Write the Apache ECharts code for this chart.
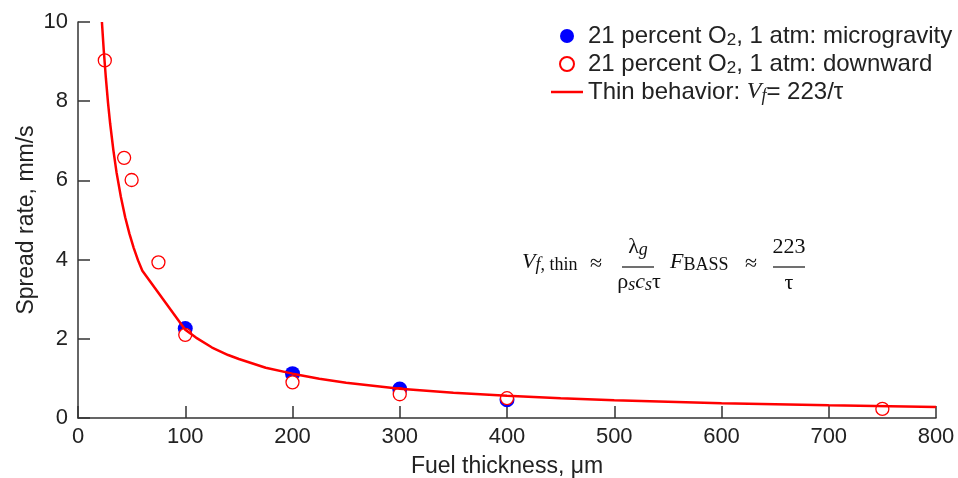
<!DOCTYPE html>
<html><head><meta charset="utf-8">
<script src="https://cdn.jsdelivr.net/npm/echarts@6/dist/echarts.min.js"></script>
<style>html,body{margin:0;padding:0;background:#fff}#c{width:958px;height:478px}</style>
</head><body><div id="c"></div>
<script>
// ---- data ----
const microX = [100, 200, 300, 400];
const microY = [2.26, 1.12, 0.73, 0.46];
const downX = [25, 43, 50, 75, 100, 200, 300, 400, 750];
const downY = [9.03, 6.57, 6.01, 3.93, 2.10, 0.90, 0.60, 0.50, 0.23];
const curveX = [22.3, 24, 26, 28, 30, 33, 36, 40, 44, 48, 52, 56, 60, 100, 110, 125, 140, 150, 175, 200, 225, 250, 300, 350, 400, 450, 500, 600, 700, 800];
const curveY = [10, 9.29, 8.58, 7.96, 7.43, 6.76, 6.19, 5.58, 5.07, 4.65, 4.29, 3.98, 3.72, 2.23, 2.03, 1.78, 1.59, 1.49, 1.27, 1.12, 0.99, 0.89, 0.74, 0.64, 0.56, 0.50, 0.45, 0.37, 0.32, 0.28];
const xTickMin = 0, xTickMax = 800, xTickStep = 100;
const yTickMin = 0, yTickMax = 10, yTickStep = 2;
const seriesNames = ['21 percent O2, 1 atm: microgravity', '21 percent O2, 1 atm: downward', 'Thin behavior: Vf = 223/τ'];
const legendRich = [
  '{a|21 percent O}{sub|2}{a|, 1 atm: microgravity}',
  '{a|21 percent O}{sub|2}{a|, 1 atm: downward}',
  '{a|Thin behavior: }{iv|V}{isub|f}{a|= 223/τ}'
];

const SANS = '"Liberation Sans", Arial, Helvetica, sans-serif';
const SERIF = '"Liberation Serif", "Times New Roman", serif';
const TXT = '#222';
const AX = '#333';

const zip = (xs, ys) => xs.map((x, i) => [x, ys[i]]);

const serRich = {
  m: { fontFamily: SERIF, fontSize: 22, lineHeight: 24, fill: '#111' },
  mi: { fontFamily: SERIF, fontSize: 22, fontStyle: 'italic', lineHeight: 24, fill: '#111' },
  s: { fontFamily: SERIF, fontSize: 18, lineHeight: 12, verticalAlign: 'bottom', fill: '#111' },
  si: { fontFamily: SERIF, fontSize: 18, fontStyle: 'italic', lineHeight: 12, verticalAlign: 'bottom', fill: '#111' }
};
function eqText(x, y, text, align) {
  return { type: 'text', x: x, y: y, silent: true,
    style: { text: text, rich: serRich, textAlign: align || 'left', textVerticalAlign: 'middle', fill: '#111', font: '22px ' + SERIF } };
}
function eqLine(x1, x2, y) {
  return { type: 'line', silent: true, shape: { x1: x1, y1: y, x2: x2, y2: y }, style: { stroke: '#111', lineWidth: 1.2 } };
}

const lineIcon = 'path://M0,0 M32,13 M0,5.25 L32,5.25 L32,7.75 L0,7.75 Z';

const chart = echarts.init(document.getElementById('c'), null, { renderer: 'canvas' });
chart.setOption({
  animation: false,
  backgroundColor: '#fff',
  grid: { left: 78, right: 22, top: 22, bottom: 60, containLabel: false, outerBoundsMode: 'none' },
  legend: {
    orient: 'vertical', left: 551, top: 24, padding: 0, itemGap: 3,
    itemWidth: 32, itemHeight: 14,
    data: [
      { name: seriesNames[0] },
      { name: seriesNames[1] },
      { name: seriesNames[2], icon: lineIcon, itemStyle: { color: '#ff0000', borderWidth: 0 } }
    ],
    formatter: function (name) { return legendRich[seriesNames.indexOf(name)]; },
    textStyle: {
      color: TXT, fontFamily: SANS, fontSize: 24,
      rich: {
        a: { fontFamily: SANS, fontSize: 24, lineHeight: 26, color: TXT },
        sub: { fontFamily: SANS, fontSize: 17, lineHeight: 12, verticalAlign: 'bottom', color: TXT },
        iv: { fontFamily: SERIF, fontSize: 24, fontStyle: 'italic', lineHeight: 26, color: TXT },
        isub: { fontFamily: SERIF, fontSize: 18, fontStyle: 'italic', lineHeight: 10, verticalAlign: 'bottom', color: TXT }
      }
    }
  },
  xAxis: {
    type: 'value', min: xTickMin, max: xTickMax, interval: xTickStep,
    name: 'Fuel thickness, μm', nameLocation: 'middle', nameGap: 37,
    nameTextStyle: { fontSize: 23, color: TXT, fontFamily: SANS },
    axisLine: { lineStyle: { color: AX, width: 1.5 } },
    axisTick: { inside: true, length: 12, lineStyle: { color: AX, width: 1.5 } },
    axisLabel: { fontSize: 22, color: TXT, margin: 8, fontFamily: SANS },
    splitLine: { show: false }
  },
  yAxis: {
    type: 'value', min: yTickMin, max: yTickMax, interval: yTickStep,
    name: 'Spread rate, mm/s', nameLocation: 'middle', nameGap: 40, nameMoveOverlap: false,
    nameTextStyle: { fontSize: 23, color: TXT, fontFamily: SANS },
    axisLine: { show: true, lineStyle: { color: AX, width: 1.5 } },
    axisTick: { show: true, inside: true, length: 12, lineStyle: { color: AX, width: 1.5 } },
    axisLabel: { fontSize: 22, color: TXT, margin: 10, fontFamily: SANS },
    splitLine: { show: false }
  },
  series: [
    { name: seriesNames[0], type: 'scatter', symbol: 'circle', symbolSize: 15,
      itemStyle: { color: '#0000ff', opacity: 1 }, data: zip(microX, microY) },
    { name: seriesNames[1], type: 'scatter', symbol: 'circle', symbolSize: 13,
      itemStyle: { color: '#ffffff', borderColor: '#ff0000', borderWidth: 1.3, opacity: 1 }, data: zip(downX, downY) },
    { name: seriesNames[2], type: 'line', symbol: 'none', smooth: false,
      lineStyle: { color: '#ff0000', width: 2.5 }, itemStyle: { color: '#ff0000' }, data: zip(curveX, curveY) }
  ],
  graphic: [
    eqText(522, 262, '{mi|V}{si|f}{s|, thin}'),
    eqText(590, 264, '{m|≈}'),
    eqText(638, 247, '{m|λ}{si|g}', 'center'),
    eqLine(622, 654, 267),
    eqText(639, 282, '{m|ρ}{si|s}{mi|c}{si|s}{m|τ}', 'center'),
    eqText(670, 262, '{mi|F}{s|BASS}'),
    eqText(745, 264, '{m|≈}'),
    eqText(789, 247, '{m|223}', 'center'),
    eqLine(773, 805, 267),
    eqText(789, 283, '{m|τ}', 'center')
  ]
});
</script>
</body></html>
